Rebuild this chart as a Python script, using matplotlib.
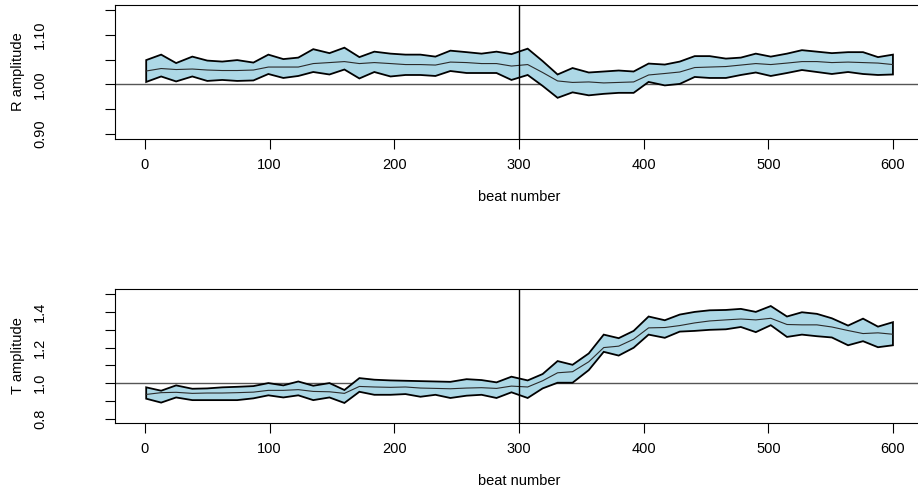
import matplotlib
matplotlib.use("Agg")
import matplotlib.pyplot as plt

# beat numbers of the 50 windows
beats = [1, 13, 25, 38, 50, 62, 74, 87, 99, 111, 123, 135, 148, 160, 172, 184,
         197, 209, 221, 233, 245, 258, 270, 282, 294, 307, 319, 331, 343, 356,
         368, 380, 392, 404, 417, 429, 441, 453, 466, 478, 490, 502, 515, 527,
         539, 551, 564, 576, 588, 600]

# R amplitude: upper band, centre line, lower band
r_upper = [1.049, 1.060, 1.043, 1.056, 1.048, 1.046, 1.049, 1.044, 1.060, 1.051,
           1.054, 1.071, 1.063, 1.074, 1.055, 1.066, 1.062, 1.060, 1.060, 1.056,
           1.068, 1.065, 1.062, 1.066, 1.061, 1.072, 1.047, 1.020, 1.033, 1.024,
           1.026, 1.028, 1.026, 1.042, 1.040, 1.046, 1.057, 1.057, 1.052, 1.054,
           1.062, 1.056, 1.062, 1.069, 1.066, 1.063, 1.065, 1.065, 1.055, 1.060]
r_mid = [1.027, 1.032, 1.030, 1.031, 1.029, 1.028, 1.028, 1.029, 1.035, 1.035,
         1.035, 1.042, 1.044, 1.046, 1.042, 1.044, 1.042, 1.040, 1.040, 1.039,
         1.045, 1.044, 1.042, 1.042, 1.037, 1.040, 1.024, 1.007, 1.004, 1.005,
         1.003, 1.004, 1.005, 1.019, 1.022, 1.025, 1.034, 1.035, 1.036, 1.039,
         1.042, 1.040, 1.043, 1.046, 1.046, 1.044, 1.045, 1.044, 1.043, 1.040]
r_lower = [1.005, 1.016, 1.006, 1.016, 1.007, 1.009, 1.007, 1.008, 1.021, 1.013,
           1.017, 1.025, 1.020, 1.030, 1.012, 1.025, 1.016, 1.019, 1.019, 1.017,
           1.027, 1.023, 1.023, 1.023, 1.009, 1.019, 0.997, 0.973, 0.984, 0.978,
           0.981, 0.983, 0.983, 1.005, 0.998, 1.001, 1.015, 1.013, 1.013, 1.019,
           1.024, 1.017, 1.023, 1.029, 1.025, 1.021, 1.025, 1.021, 1.019, 1.020]

# T amplitude: upper band, centre line, lower band
t_upper = [0.976, 0.957, 0.987, 0.968, 0.970, 0.976, 0.979, 0.983, 1.000, 0.987,
           1.009, 0.985, 1.000, 0.961, 1.028, 1.019, 1.015, 1.013, 1.011, 1.009,
           1.007, 1.022, 1.017, 1.004, 1.036, 1.015, 1.051, 1.124, 1.103, 1.167,
           1.273, 1.253, 1.294, 1.375, 1.354, 1.386, 1.401, 1.410, 1.412, 1.418,
           1.401, 1.434, 1.375, 1.399, 1.390, 1.365, 1.324, 1.363, 1.318, 1.343]
t_mid = [0.936, 0.946, 0.948, 0.942, 0.944, 0.944, 0.946, 0.949, 0.959, 0.959,
         0.963, 0.953, 0.951, 0.942, 0.981, 0.978, 0.976, 0.978, 0.972, 0.970,
         0.968, 0.972, 0.974, 0.970, 0.983, 0.978, 1.013, 1.058, 1.064, 1.120,
         1.200, 1.208, 1.247, 1.311, 1.313, 1.324, 1.339, 1.350, 1.356, 1.361,
         1.356, 1.365, 1.330, 1.328, 1.328, 1.316, 1.296, 1.279, 1.283, 1.275]
t_lower = [0.912, 0.890, 0.919, 0.904, 0.904, 0.904, 0.904, 0.914, 0.931, 0.919,
           0.931, 0.904, 0.919, 0.888, 0.951, 0.934, 0.934, 0.938, 0.923, 0.934,
           0.916, 0.929, 0.934, 0.916, 0.948, 0.916, 0.970, 1.002, 1.002, 1.073,
           1.176, 1.155, 1.199, 1.273, 1.255, 1.290, 1.294, 1.300, 1.303, 1.316,
           1.287, 1.326, 1.260, 1.273, 1.264, 1.257, 1.213, 1.236, 1.202, 1.213]

x_ticks = [0, 100, 200, 300, 400, 500, 600]
r_ticks = [0.90, 0.95, 1.00, 1.05, 1.10, 1.15]
r_ticklabels = ["0.90", "", "1.00", "", "1.10", ""]
t_ticks = [0.8, 0.9, 1.0, 1.1, 1.2, 1.3, 1.4, 1.5]
t_ticklabels = ["0.8", "", "1.0", "", "1.2", "", "1.4", ""]

plt.rcParams['font.family'] = ['Liberation Sans', 'DejaVu Sans']

fig = plt.figure(figsize=(9.18, 4.9), dpi=100)
ax1 = fig.add_axes([0.1253, 0.7163, 0.880, 0.2735])
ax2 = fig.add_axes([0.1253, 0.1367, 0.880, 0.2735])


def panel(ax, upper, mid, lower, ylim, yticks, ylabels, ylab):
    ax.axhline(1.0, color='#555555', lw=1.0, zorder=1)
    ax.fill(beats + beats[::-1], upper + lower[::-1],
            facecolor='lightblue', edgecolor='black', lw=1.3, zorder=2)
    ax.plot(beats, mid, color='#2a2a2a', lw=0.8, zorder=3)
    ax.axvline(300, color='black', lw=1.0, zorder=4)
    ax.set_xlim(-24, 624)
    ax.set_ylim(*ylim)
    ax.set_xticks(x_ticks)
    ax.set_yticks(yticks)
    ax.set_yticklabels(ylabels, rotation=90, va='center')
    ax.tick_params(axis='x', direction='out', length=7, width=0.8,
                   labelsize=10.5, pad=7)
    ax.tick_params(axis='y', direction='out', length=7, width=0.8,
                   labelsize=10.5, pad=42)
    for s in ax.spines.values():
        s.set_linewidth(0.8)
    ax.set_xlabel('beat number', fontsize=10.5, va='center')
    ax.xaxis.set_label_coords(0.5, -0.43)
    ax.set_ylabel(ylab, fontsize=10.5)
    ax.yaxis.set_label_coords(-0.111, 0.5)


panel(ax1, r_upper, r_mid, r_lower, (0.89, 1.16), r_ticks, r_ticklabels, 'R amplitude')
panel(ax2, t_upper, t_mid, t_lower, (0.775, 1.53), t_ticks, t_ticklabels, 'T amplitude')

fig.savefig('out.png', dpi=100)
